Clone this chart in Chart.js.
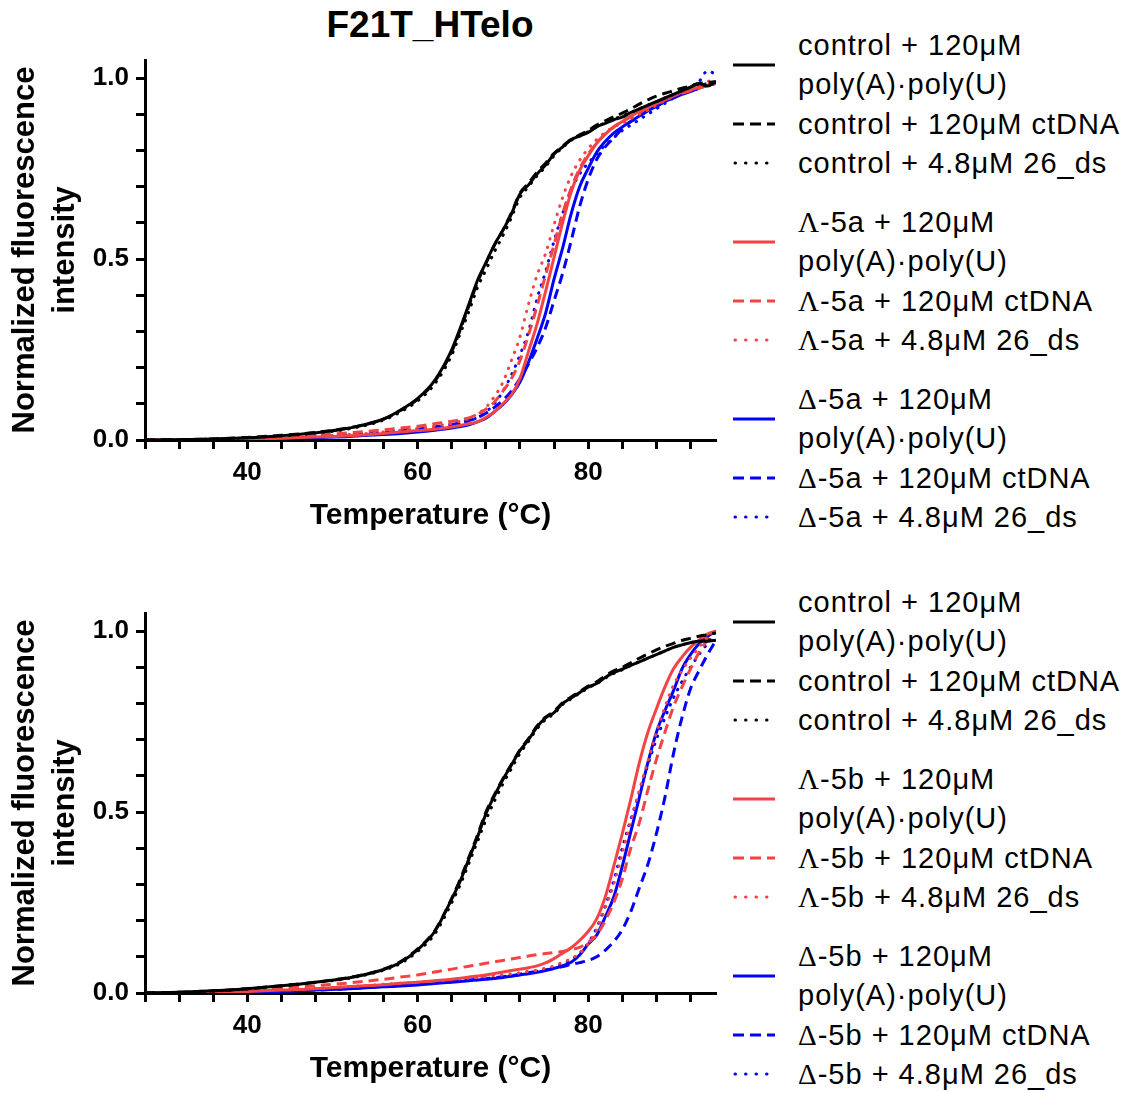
<!DOCTYPE html>
<html>
<head>
<meta charset="utf-8">
<script src="https://cdn.jsdelivr.net/npm/chart.js@4.4.0/dist/chart.umd.min.js"></script>
<style>
  body { margin: 0; background: #fff; width: 1125px; height: 1093px; position: relative; overflow: hidden;
         font-family: "Liberation Sans", Arial, sans-serif; color: #000; }
  .plot { position: absolute; left: 0; }
  #title { position: absolute; top: 5px; left: 280px; width: 300px; text-align: center;
           font-weight: bold; font-size: 37px; line-height: 40px; }
  .lg-text { position: absolute; left: 798px; height: 40px; line-height: 40px; font-size: 29px;
             letter-spacing: 1px; white-space: nowrap; }
  .lg-line { position: absolute; left: 733px; }
  .greek { font-family: "Liberation Serif", serif; }
</style>
</head>
<body>
<div id="title">F21T_HTelo</div>
<canvas id="chartTop" class="plot" style="top:0px" width="730" height="540"></canvas>
<canvas id="chartBottom" class="plot" style="top:553px" width="730" height="540"></canvas>
<div id="legends"></div>

<script>
// temperatur-akse (°C), felles for begge paneler
const temps = [28, 32, 36, 40, 44, 48, 52, 56, 58, 60, 62, 64, 65, 66, 67, 68, 69, 70, 71, 72, 73, 74,
               75, 76, 77, 78, 79, 80, 81, 82, 83, 84, 85, 86, 87, 88, 89, 90, 91, 92, 93, 94, 95];
const xTicks = [40, 60, 80];
const yTicks = [0.0, 0.5, 1.0];

// ---- øvre panel (Λ-5a / Δ-5a) ----
const topCtrlPolyAU = [0, 0.001, 0.003, 0.006, 0.012, 0.02, 0.033, 0.058, 0.083, 0.115, 0.165, 0.25, 0.31, 0.375, 0.44, 0.49, 0.54, 0.58, 0.625, 0.68, 0.705, 0.735, 0.76, 0.79, 0.81, 0.83, 0.84, 0.85, 0.865, 0.875, 0.885, 0.892, 0.905, 0.915, 0.925, 0.935, 0.945, 0.955, 0.965, 0.975, 0.985, 0.978, 0.99];
const topCtrlCtDNA = [0, 0.001, 0.003, 0.007, 0.013, 0.021, 0.034, 0.058, 0.082, 0.113, 0.162, 0.245, 0.305, 0.37, 0.435, 0.488, 0.538, 0.58, 0.628, 0.682, 0.71, 0.74, 0.765, 0.792, 0.812, 0.83, 0.843, 0.855, 0.87, 0.882, 0.893, 0.903, 0.915, 0.928, 0.94, 0.95, 0.958, 0.965, 0.972, 0.978, 0.985, 0.988, 0.99];
const topCtrl26ds = [0, 0.001, 0.003, 0.006, 0.011, 0.019, 0.031, 0.055, 0.078, 0.108, 0.155, 0.235, 0.295, 0.355, 0.42, 0.47, 0.52, 0.565, 0.615, 0.67, 0.7, 0.73, 0.755, 0.785, 0.808, 0.828, 0.84, 0.852, 0.865, 0.877, 0.887, 0.895, 0.905, 0.915, 0.925, 0.935, 0.945, 0.955, 0.965, 0.975, 0.983, 0.98, 0.99];
const topL5aPolyAU = [0, 0, 0, 0.002, 0.005, 0.008, 0.012, 0.018, 0.022, 0.026, 0.03, 0.036, 0.04, 0.045, 0.05, 0.062, 0.078, 0.1, 0.125, 0.17, 0.245, 0.32, 0.41, 0.505, 0.6, 0.685, 0.745, 0.785, 0.82, 0.845, 0.865, 0.88, 0.895, 0.908, 0.92, 0.93, 0.94, 0.952, 0.96, 0.967, 0.975, 0.98, 0.99];
const topL5aCtDNA = [0, 0, 0.002, 0.004, 0.008, 0.013, 0.02, 0.028, 0.033, 0.038, 0.045, 0.052, 0.056, 0.061, 0.071, 0.085, 0.105, 0.135, 0.17, 0.22, 0.29, 0.37, 0.455, 0.54, 0.625, 0.695, 0.75, 0.79, 0.82, 0.845, 0.865, 0.88, 0.893, 0.905, 0.918, 0.93, 0.94, 0.95, 0.958, 0.965, 0.972, 0.98, 0.985];
const topL5a26ds = [0, 0, 0.001, 0.003, 0.006, 0.01, 0.015, 0.022, 0.027, 0.032, 0.038, 0.046, 0.052, 0.06, 0.072, 0.09, 0.12, 0.16, 0.22, 0.285, 0.375, 0.455, 0.515, 0.595, 0.67, 0.73, 0.773, 0.805, 0.83, 0.85, 0.865, 0.875, 0.888, 0.9, 0.912, 0.925, 0.938, 0.95, 0.96, 0.97, 0.98, 0.99, 1.0];
const topD5aPolyAU = [0, 0, 0, 0.002, 0.004, 0.007, 0.01, 0.015, 0.018, 0.022, 0.027, 0.033, 0.037, 0.042, 0.05, 0.06, 0.078, 0.098, 0.125, 0.16, 0.215, 0.28, 0.35, 0.445, 0.53, 0.625, 0.7, 0.75, 0.795, 0.825, 0.848, 0.865, 0.88, 0.895, 0.91, 0.922, 0.935, 0.945, 0.955, 0.963, 0.972, 0.98, 0.985];
const topD5aCtDNA = [0, 0, 0.001, 0.003, 0.006, 0.01, 0.015, 0.02, 0.025, 0.03, 0.036, 0.043, 0.048, 0.054, 0.062, 0.074, 0.09, 0.11, 0.135, 0.17, 0.21, 0.255, 0.31, 0.385, 0.46, 0.55, 0.645, 0.72, 0.775, 0.81, 0.835, 0.86, 0.88, 0.895, 0.91, 0.922, 0.935, 0.948, 0.96, 0.97, 0.978, 0.985, 0.99];
const topD5a26ds = [0, 0, 0.001, 0.002, 0.004, 0.007, 0.011, 0.016, 0.02, 0.025, 0.031, 0.04, 0.045, 0.052, 0.062, 0.078, 0.1, 0.135, 0.18, 0.235, 0.3, 0.39, 0.465, 0.55, 0.625, 0.69, 0.735, 0.765, 0.79, 0.815, 0.835, 0.855, 0.87, 0.885, 0.9, 0.915, 0.93, 0.945, 0.96, 0.975, 0.99, 1.02, 1.01];

// ---- nedre panel (Λ-5b / Δ-5b) ----
const botCtrlPolyAU = [0, 0.002, 0.006, 0.012, 0.02, 0.03, 0.042, 0.065, 0.085, 0.12, 0.17, 0.26, 0.31, 0.37, 0.43, 0.495, 0.545, 0.59, 0.63, 0.67, 0.7, 0.735, 0.76, 0.775, 0.8, 0.815, 0.83, 0.845, 0.855, 0.872, 0.885, 0.895, 0.905, 0.915, 0.925, 0.935, 0.945, 0.955, 0.962, 0.968, 0.972, 0.972, 0.975];
const botCtrlCtDNA = [0, 0.002, 0.006, 0.012, 0.02, 0.03, 0.043, 0.066, 0.087, 0.122, 0.172, 0.262, 0.315, 0.375, 0.435, 0.5, 0.548, 0.592, 0.632, 0.672, 0.703, 0.738, 0.762, 0.778, 0.802, 0.818, 0.833, 0.848, 0.86, 0.876, 0.89, 0.9, 0.912, 0.925, 0.937, 0.948, 0.958, 0.966, 0.974, 0.98, 0.986, 0.99, 0.995];
const botCtrl26ds = [0, 0.002, 0.005, 0.011, 0.019, 0.029, 0.041, 0.063, 0.082, 0.115, 0.163, 0.25, 0.3, 0.358, 0.418, 0.478, 0.53, 0.578, 0.62, 0.662, 0.695, 0.73, 0.755, 0.772, 0.797, 0.813, 0.828, 0.843, 0.855, 0.87, 0.883, 0.893, 0.905, 0.915, 0.925, 0.935, 0.945, 0.955, 0.962, 0.968, 0.972, 0.975, 0.978];
const botL5bPolyAU = [0, 0, 0.002, 0.004, 0.008, 0.012, 0.018, 0.023, 0.027, 0.03, 0.034, 0.038, 0.041, 0.044, 0.047, 0.05, 0.054, 0.058, 0.062, 0.066, 0.07, 0.075, 0.083, 0.095, 0.11, 0.125, 0.145, 0.17, 0.205, 0.265, 0.35, 0.44, 0.535, 0.636, 0.72, 0.785, 0.845, 0.895, 0.928, 0.955, 0.975, 0.992, 1.0];
const botL5bCtDNA = [0, 0.001, 0.003, 0.008, 0.014, 0.02, 0.028, 0.038, 0.044, 0.05, 0.058, 0.066, 0.07, 0.074, 0.078, 0.082, 0.086, 0.09, 0.094, 0.098, 0.102, 0.106, 0.109, 0.112, 0.115, 0.12, 0.126, 0.14, 0.16, 0.2, 0.25, 0.315, 0.4, 0.47, 0.56, 0.645, 0.72, 0.79, 0.845, 0.895, 0.94, 0.975, 1.0];
const botL5b26ds = [0, 0, 0.002, 0.005, 0.009, 0.013, 0.018, 0.024, 0.027, 0.03, 0.033, 0.037, 0.039, 0.041, 0.043, 0.045, 0.048, 0.05, 0.053, 0.056, 0.06, 0.063, 0.069, 0.075, 0.085, 0.095, 0.11, 0.135, 0.175, 0.235, 0.3, 0.385, 0.475, 0.56, 0.64, 0.72, 0.79, 0.85, 0.89, 0.925, 0.955, 0.985, 1.0];
const botD5bPolyAU = [0, 0, 0.001, 0.003, 0.005, 0.008, 0.012, 0.017, 0.019, 0.022, 0.026, 0.03, 0.032, 0.034, 0.036, 0.038, 0.04, 0.043, 0.046, 0.05, 0.053, 0.057, 0.062, 0.068, 0.075, 0.085, 0.105, 0.135, 0.16, 0.21, 0.265, 0.35, 0.445, 0.54, 0.636, 0.72, 0.78, 0.835, 0.895, 0.935, 0.965, 0.985, 1.0];
const botD5bCtDNA = [0, 0, 0.001, 0.003, 0.005, 0.008, 0.012, 0.018, 0.021, 0.024, 0.028, 0.032, 0.034, 0.036, 0.038, 0.04, 0.042, 0.045, 0.048, 0.052, 0.056, 0.06, 0.064, 0.068, 0.073, 0.079, 0.084, 0.09, 0.1, 0.118, 0.142, 0.175, 0.225, 0.29, 0.355, 0.44, 0.54, 0.66, 0.76, 0.84, 0.89, 0.935, 0.975];
const botD5b26ds = [0, 0, 0.001, 0.003, 0.006, 0.009, 0.013, 0.018, 0.021, 0.024, 0.027, 0.031, 0.033, 0.035, 0.037, 0.04, 0.042, 0.045, 0.048, 0.051, 0.054, 0.058, 0.064, 0.07, 0.08, 0.092, 0.11, 0.138, 0.18, 0.24, 0.31, 0.4, 0.48, 0.553, 0.63, 0.7, 0.76, 0.815, 0.86, 0.9, 0.935, 0.965, 0.99];

const FONT = '"Liberation Sans", Arial, sans-serif';
const BLACK = '#000000';
const RED = '#f24444';
const BLUE = '#0000ff';
const SOLID = [];
const DASH = [10, 6];
const DOT = [0.5, 8];

// etiketter (to-linjers etiketter som array)
const topSeries = [
    [['control + 120μM', 'poly(A)·poly(U)'], topCtrlPolyAU, BLACK, SOLID],
    [['control + 120μM ctDNA'], topCtrlCtDNA, BLACK, DASH],
    [['control + 4.8μM 26_ds'], topCtrl26ds, BLACK, DOT],
    [['Λ-5a + 120μM', 'poly(A)·poly(U)'], topL5aPolyAU, RED, SOLID],
    [['Λ-5a + 120μM ctDNA'], topL5aCtDNA, RED, DASH],
    [['Λ-5a + 4.8μM 26_ds'], topL5a26ds, RED, DOT],
    [['Δ-5a + 120μM', 'poly(A)·poly(U)'], topD5aPolyAU, BLUE, SOLID],
    [['Δ-5a + 120μM ctDNA'], topD5aCtDNA, BLUE, DASH],
    [['Δ-5a + 4.8μM 26_ds'], topD5a26ds, BLUE, DOT]
];
const bottomSeries = [
    [['control + 120μM', 'poly(A)·poly(U)'], botCtrlPolyAU, BLACK, SOLID],
    [['control + 120μM ctDNA'], botCtrlCtDNA, BLACK, DASH],
    [['control + 4.8μM 26_ds'], botCtrl26ds, BLACK, DOT],
    [['Λ-5b + 120μM', 'poly(A)·poly(U)'], botL5bPolyAU, RED, SOLID],
    [['Λ-5b + 120μM ctDNA'], botL5bCtDNA, RED, DASH],
    [['Λ-5b + 4.8μM 26_ds'], botL5b26ds, RED, DOT],
    [['Δ-5b + 120μM', 'poly(A)·poly(U)'], botD5bPolyAU, BLUE, SOLID],
    [['Δ-5b + 120μM ctDNA'], botD5bCtDNA, BLUE, DASH],
    [['Δ-5b + 4.8μM 26_ds'], botD5b26ds, BLUE, DOT]
];

function toDataset(s) {
    const [label, values, color, dash] = s;
    return {
        label: label.join(' '),
        data: temps.map((t, i) => ({ x: t, y: values[i] })),
        borderColor: color,
        borderWidth: 3,
        borderDash: dash,
        borderCapStyle: dash === DOT ? 'round' : 'butt',
        pointRadius: 0,
        cubicInterpolationMode: 'monotone',
        fill: false
    };
}

function isTick(v, list) {
    return list.some(t => Math.abs(t - v) < 1e-6);
}

function makeChart(id, series) {
    const ctx = document.getElementById(id).getContext('2d');
    return new Chart(ctx, {
        type: 'line',
        data: { datasets: series.map(toDataset) },
        options: {
            responsive: false,
            animation: false,
            devicePixelRatio: 1,
            layout: { padding: { top: 60, right: 14, left: 0, bottom: 0 } },
            plugins: { legend: { display: false }, tooltip: { enabled: false } },
            scales: {
                x: {
                    type: 'linear',
                    min: 28,
                    max: 95,
                    border: { display: true, color: BLACK, width: 3 },
                    grid: { drawOnChartArea: false, drawTicks: true, tickLength: 9, tickWidth: 3, tickColor: BLACK },
                    ticks: {
                        stepSize: 4,
                        includeBounds: false,
                        autoSkip: false,
                        maxRotation: 0,
                        padding: 8,
                        color: BLACK,
                        font: { family: FONT, size: 26, weight: 'bold' },
                        callback: v => isTick(v, xTicks) ? String(v) : ''
                    },
                    title: {
                        display: true,
                        text: 'Temperature (°C)',
                        color: BLACK,
                        font: { family: FONT, size: 30, weight: 'bold' },
                        padding: { top: 0, bottom: 6 }
                    },
                    afterFit: s => { s.height = 100; }
                },
                y: {
                    min: 0,
                    max: 1.05,
                    border: { display: true, color: BLACK, width: 3 },
                    grid: { drawOnChartArea: false, drawTicks: true, tickLength: 9, tickWidth: 3, tickColor: BLACK },
                    ticks: {
                        stepSize: 0.1,
                        includeBounds: false,
                        autoSkip: false,
                        padding: 7,
                        color: BLACK,
                        font: { family: FONT, size: 26, weight: 'bold' },
                        callback: v => isTick(v, yTicks) ? v.toFixed(1) : ''
                    },
                    title: {
                        display: true,
                        text: ['Normalized fluorescence', 'intensity'],
                        color: BLACK,
                        font: { family: FONT, size: 31, weight: 'bold', lineHeight: 1.29 },
                        padding: { top: 5, bottom: 0 }
                    },
                    afterFit: s => { s.width = 145; }
                }
            }
        }
    });
}

// Legende: tekst + linjeprøve, tre grupper à fire linjer
function greekWrap(txt) {
    return txt.replace(/([ΛΔ])/g, '<span class="greek">$1</span>');
}

function buildLegend(series, baseY) {
    const host = document.getElementById('legends');
    const lineStep = 39.3;
    const groupStep = 177;
    series.forEach((s, i) => {
        const [label, , color, dash] = s;
        const group = Math.floor(i / 3);
        const within = i % 3;
        // første oppføring i gruppen har to tekstlinjer
        const lineIdx = within === 0 ? 0 : within + 1;
        const y0 = baseY + group * groupStep + lineIdx * lineStep;
        label.forEach((txt, k) => {
            const d = document.createElement('div');
            d.className = 'lg-text';
            d.style.top = (y0 + k * lineStep - 20) + 'px';
            d.innerHTML = greekWrap(txt);
            host.appendChild(d);
        });
        const lineY = label.length > 1 ? y0 + lineStep / 2 : y0;
        const svgNS = 'http://www.w3.org/2000/svg';
        const svg = document.createElementNS(svgNS, 'svg');
        svg.setAttribute('class', 'lg-line');
        svg.setAttribute('width', '44');
        svg.setAttribute('height', '10');
        svg.style.top = (lineY - 5) + 'px';
        const ln = document.createElementNS(svgNS, 'line');
        ln.setAttribute('x1', dash === DOT ? '2' : '0');
        ln.setAttribute('x2', '42');
        ln.setAttribute('y1', '5');
        ln.setAttribute('y2', '5');
        ln.setAttribute('stroke', color);
        ln.setAttribute('stroke-width', '3');
        if (dash === DASH) ln.setAttribute('stroke-dasharray', '11 6');
        if (dash === DOT) { ln.setAttribute('stroke-dasharray', '0.5 10'); ln.setAttribute('stroke-linecap', 'round'); }
        svg.appendChild(ln);
        host.appendChild(svg);
    });
}

makeChart('chartTop', topSeries);
makeChart('chartBottom', bottomSeries);
buildLegend(topSeries, 45);
buildLegend(bottomSeries, 602);
</script>
</body>
</html>
